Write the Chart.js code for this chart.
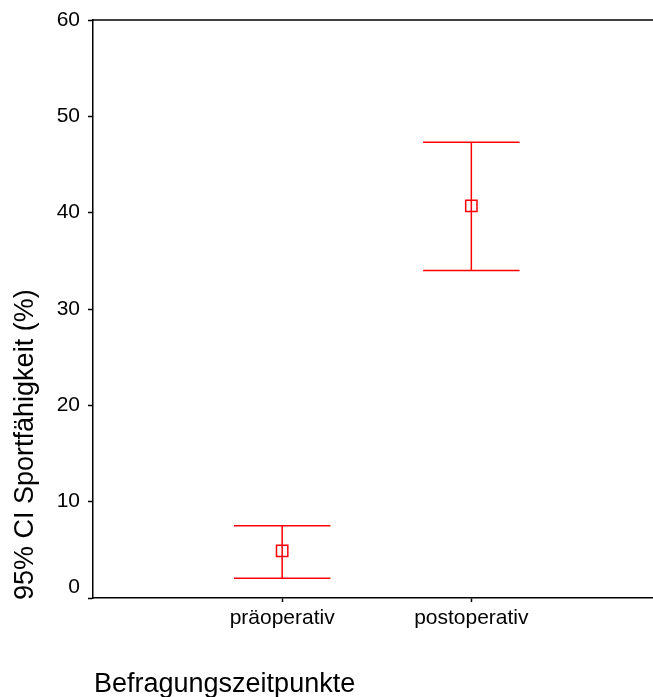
<!DOCTYPE html>
<html>
<head>
<meta charset="utf-8">
<script src="https://cdn.jsdelivr.net/npm/chart.js@4"></script>
<style>
  html, body { margin: 0; padding: 0; background: #fff; overflow: hidden; }
  #wrap { position: relative; width: 670px; height: 697px; }
</style>
</head>
<body>
<div id="wrap"><canvas id="ciChart"></canvas></div>
<script>
// data
const categories = ['präoperativ', 'postoperativ'];
const meanValues = [4.9, 40.7];
const ciLower = [2.05, 34.0];
const ciUpper = [7.5, 47.3];
const yTickValues = [0, 10, 20, 30, 40, 50, 60];

const xTitle = 'Befragungszeitpunkte';
const yTitle = '95% CI Sportfähigkeit (%)';

const RED = '#ff0000';
const FONT = '"Liberation Sans", Arial, sans-serif';

// whiskers + caps, top frame line, titles and y labels
const extras = {
    id: 'extras',
    afterDatasetsDraw(chart) {
        const { ctx, scales: { x, y } } = chart;
        ctx.save();
        ctx.strokeStyle = RED;
        ctx.lineWidth = 1.5;
        categories.forEach((c, i) => {
            const px = x.getPixelForValue(i + 1);
            const capL = x.getPixelForValue(i + 1 - 0.255);
            const capR = x.getPixelForValue(i + 1 + 0.255);
            const top = y.getPixelForValue(ciUpper[i]);
            const bot = y.getPixelForValue(ciLower[i]);
            ctx.beginPath();
            ctx.moveTo(px, top); ctx.lineTo(px, bot);
            ctx.moveTo(capL, top); ctx.lineTo(capR, top);
            ctx.moveTo(capL, bot); ctx.lineTo(capR, bot);
            ctx.stroke();
        });
        ctx.restore();
    },
    afterDraw(chart) {
        const { ctx, chartArea, scales: { y } } = chart;
        ctx.save();
        // top frame
        ctx.strokeStyle = '#000';
        ctx.lineWidth = 1.5;
        ctx.beginPath();
        ctx.moveTo(chartArea.left, chartArea.top);
        ctx.lineTo(chartArea.right, chartArea.top);
        ctx.stroke();

        // y tick labels (0 is lifted above the axis line)
        ctx.fillStyle = '#000';
        ctx.font = '21px ' + FONT;
        ctx.textAlign = 'right';
        ctx.textBaseline = 'middle';
        yTickValues.forEach(v => {
            const py = Math.min(y.getPixelForValue(v), chartArea.bottom - 11);
            ctx.fillText(String(v), chartArea.left - 13, py);
        });

        // axis titles
        ctx.font = '27px ' + FONT;
        ctx.textAlign = 'left';
        ctx.textBaseline = 'alphabetic';
        ctx.fillText(xTitle, 94, 692);
        ctx.translate(33, 600);
        ctx.rotate(-Math.PI / 2);
        ctx.fillText(yTitle, 0, 0);
        ctx.restore();
    }
};

const ctx = document.getElementById('ciChart').getContext('2d');
new Chart(ctx, {
    type: 'scatter',
    data: {
        datasets: [{
            data: categories.map((c, i) => ({ x: i + 1, y: meanValues[i] })),
            pointStyle: 'rect',
            pointRadius: 8,
            pointHoverRadius: 8,
            borderColor: RED,
            borderWidth: 1.5,
            backgroundColor: 'rgba(0,0,0,0)'
        }]
    },
    options: {
        responsive: true,
        maintainAspectRatio: false,
        animation: false,
        events: [],
        layout: { padding: { top: 20, right: 0, bottom: 0, left: 0 } },
        plugins: {
            legend: { display: false },
            tooltip: { enabled: false }
        },
        scales: {
            x: {
                type: 'linear',
                min: 0,
                max: 3,
                afterBuildTicks: s => { s.ticks = categories.map((c, i) => ({ value: i + 1 })); },
                afterFit: s => { s.height = 99; },
                ticks: {
                    autoSkip: false,
                    maxRotation: 0,
                    padding: 4,
                    color: '#000',
                    font: { family: FONT, size: 21 },
                    callback: v => categories[v - 1]
                },
                grid: { drawOnChartArea: false, tickLength: 4, tickColor: '#000', tickWidth: 1.5 },
                border: { color: '#000', width: 1.5 }
            },
            y: {
                min: 0,
                max: 60,
                afterBuildTicks: s => { s.ticks = yTickValues.map(v => ({ value: v })); },
                afterFit: s => { s.width = 93; },
                ticks: { display: false },
                grid: { drawOnChartArea: false, tickLength: 5, tickColor: '#000', tickWidth: 1.5 },
                border: { color: '#000', width: 1.5 }
            }
        }
    },
    plugins: [extras]
});
</script>
</body>
</html>
